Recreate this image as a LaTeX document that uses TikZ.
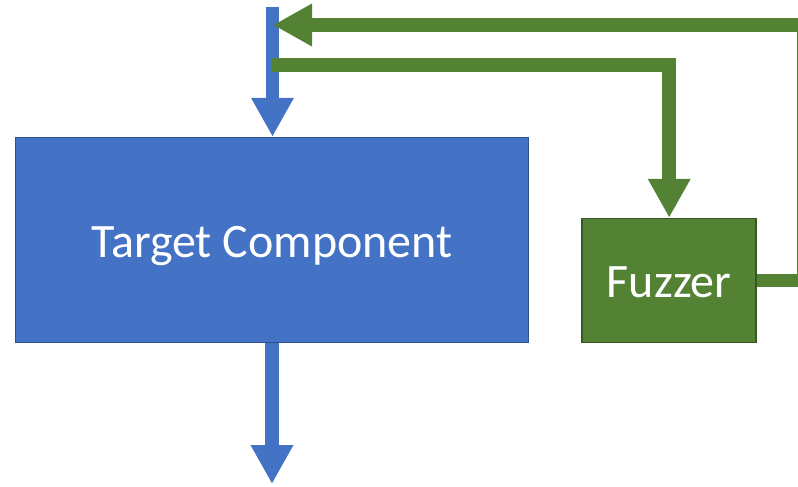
\documentclass[tikz,border=0pt]{standalone}
\usepackage{fontspec}
\setmainfont{Carlito}
\usetikzlibrary{arrows.meta}
\definecolor{officeblue}{HTML}{4472C4}
\definecolor{blueedge}{HTML}{2F528F}
\definecolor{officegreen}{HTML}{548235}
\definecolor{greenedge}{HTML}{385723}

\begin{document}
\begin{tikzpicture}[x=1pt,y=-1pt,
  block/.style={draw, line width=1.5pt, text=white,
    font=\fontsize{48}{58}\selectfont, inner sep=0pt,
    text height=35pt, text depth=1pt},
  flow/.style={line width=13.5pt, line cap=butt, line join=miter,
    -{Triangle[length=39pt,width=40pt]}}]
\useasboundingbox (0,0) rectangle (798,487);
\clip (0,0) rectangle (798,487);

% blocks
\node[block, fill=officeblue, draw=blueedge,
      minimum width=513pt, minimum height=205pt] (target) at (272,240) {Target Component};
\node[block, fill=officegreen, draw=greenedge,
      minimum width=174pt, minimum height=124pt] (fuzzer) at (669.2,280.5) {Fuzzer};

% main data path through the target
\coordinate (inTop) at (272.5,7);
\coordinate (outEnd) at (272,484);
\draw[flow, officeblue] (inTop) -- (inTop |- target.north);
\draw[flow, officeblue] (target.south) -- (outEnd);

% tap into the fuzzer
\coordinate (tapStart) at (272.3,65);
\draw[flow, officegreen] (tapStart) -| (fuzzer.north);

% fuzzer feedback into the input
\coordinate (fbCorner) at (804,25);
\coordinate (fbTip) at (273,25);
\draw[flow, officegreen] (fuzzer.east) -| (fbCorner) -- (fbTip);
\end{tikzpicture}
\end{document}
